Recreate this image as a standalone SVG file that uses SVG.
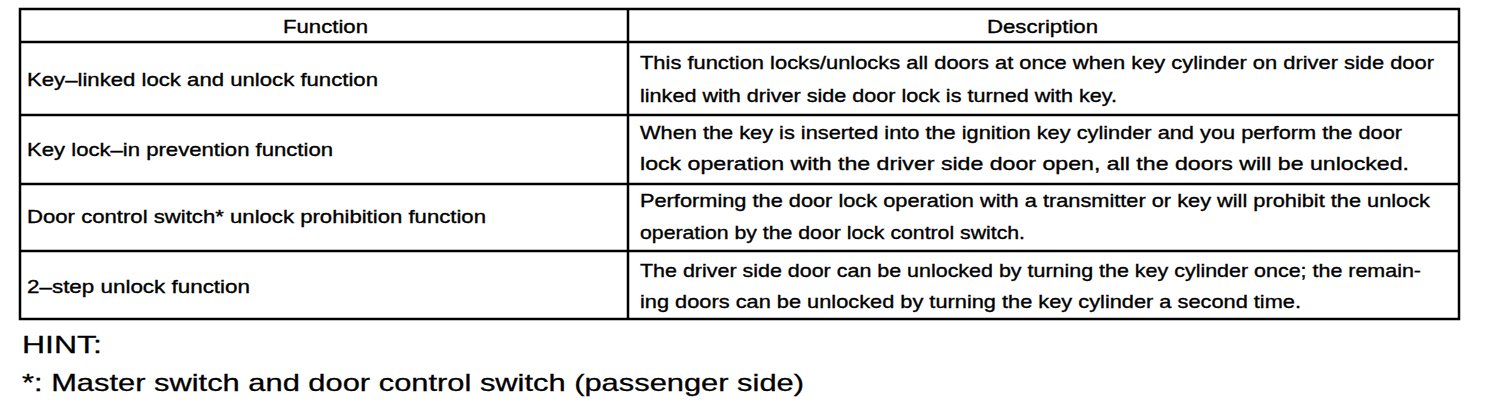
<svg xmlns="http://www.w3.org/2000/svg" width="1504" height="408" viewBox="0 0 1504 408">
<style>
.grid{stroke:#000;stroke-width:2.5;fill:none}
.t{font-family:"Liberation Sans",Arial,sans-serif;font-size:18.5px;fill:#000;stroke:#000;stroke-width:0.35}
.h{font-family:"Liberation Sans",Arial,sans-serif;font-size:24px;fill:#000;stroke:#000;stroke-width:0.3}
</style>
<rect width="1504" height="408" fill="#fff"/>
<g id="table-grid">
<rect class="grid" x="20" y="9" width="1439" height="310"/>
<line class="grid" x1="628" y1="9" x2="628" y2="319"/>
<line class="grid" x1="20" y1="42" x2="1459" y2="42"/>
<line class="grid" x1="20" y1="115" x2="1459" y2="115"/>
<line class="grid" x1="20" y1="184" x2="1459" y2="184"/>
<line class="grid" x1="20" y1="251" x2="1459" y2="251"/>
</g>
<g id="header">
<text class="t" x="283" y="33" textLength="85" lengthAdjust="spacingAndGlyphs">Function</text>
<text class="t" x="987" y="33" textLength="111" lengthAdjust="spacingAndGlyphs">Description</text>
</g>
<g id="row1">
<text class="t" x="27" y="86" textLength="351" lengthAdjust="spacingAndGlyphs">Key–linked lock and unlock function</text>
<text class="t" x="640" y="69" textLength="794" lengthAdjust="spacingAndGlyphs">This function locks/unlocks all doors at once when key cylinder on driver side door</text>
<text class="t" x="640" y="102" textLength="477" lengthAdjust="spacingAndGlyphs">linked with driver side door lock is turned with key.</text>
</g>
<g id="row2">
<text class="t" x="27" y="156" textLength="306" lengthAdjust="spacingAndGlyphs">Key lock–in prevention function</text>
<text class="t" x="640" y="139" textLength="762" lengthAdjust="spacingAndGlyphs">When the key is inserted into the ignition key cylinder and you perform the door</text>
<text class="t" x="640" y="170" textLength="769" lengthAdjust="spacingAndGlyphs">lock operation with the driver side door open, all the doors will be unlocked.</text>
</g>
<g id="row3">
<text class="t" x="27" y="223" textLength="459" lengthAdjust="spacingAndGlyphs">Door control switch* unlock prohibition function</text>
<text class="t" x="640" y="207" textLength="790" lengthAdjust="spacingAndGlyphs">Performing the door lock operation with a transmitter or key will prohibit the unlock</text>
<text class="t" x="640" y="239" textLength="385" lengthAdjust="spacingAndGlyphs">operation by the door lock control switch.</text>
</g>
<g id="row4">
<text class="t" x="27" y="293" textLength="223" lengthAdjust="spacingAndGlyphs">2–step unlock function</text>
<text class="t" x="640" y="277" textLength="781" lengthAdjust="spacingAndGlyphs">The driver side door can be unlocked by turning the key cylinder once; the remain-</text>
<text class="t" x="640" y="308" textLength="661" lengthAdjust="spacingAndGlyphs">ing doors can be unlocked by turning the key cylinder a second time.</text>
</g>
<g id="hint">
<text class="h" x="22" y="353" textLength="80" lengthAdjust="spacingAndGlyphs">HINT:</text>
<text class="h" x="22" y="391" textLength="782" lengthAdjust="spacingAndGlyphs">*: Master switch and door control switch (passenger side)</text>
</g>
</svg>
